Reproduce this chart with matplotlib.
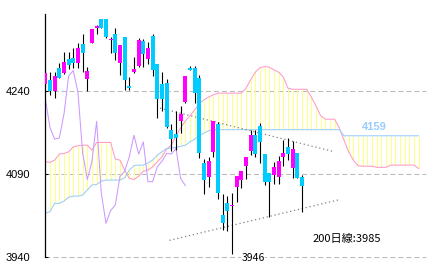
import matplotlib
matplotlib.use('Agg')
import matplotlib.pyplot as plt
import numpy as np

# ローソク足 (日足 56本)
opens = [4253, 4260, 4240, 4282, 4272, 4297, 4300, 4291, 4324, 4262,
         4327, 4353, 4370, 4370, 4332, 4343, 4290, 4338, 4249, 4274,
         4285, 4330, 4298, 4340, 4289, 4253, 4254, 4170, 4162, 4186,
         4220, 4282, 4282, 4264, 4110, 4085, 4130, 4180, 4015, 4038,
         4032, 4067, 4079, 4104, 4131, 4160, 4176, 4126, 4092, 4089,
         4085, 4121, 4139, 4100, 4128, 4085]
highs = [4276, 4275, 4275, 4291, 4310, 4310, 4317, 4326, 4342, 4284,
         4352, 4359, 4370, 4370, 4337, 4354, 4323, 4338, 4265, 4302,
         4335, 4334, 4329, 4343, 4289, 4275, 4262, 4180, 4204, 4213,
         4267, 4285, 4285, 4268, 4117, 4120, 4185, 4184, 4053, 4050,
         4055, 4086, 4095, 4121, 4170, 4170, 4182, 4126, 4092, 4112,
         4123, 4151, 4155, 4150, 4128, 4089]
lows = [4250, 4233, 4227, 4263, 4270, 4280, 4281, 4282, 4275, 4239,
        4327, 4343, 4353, 4336, 4308, 4295, 4269, 4242, 4242, 4273,
        4284, 4284, 4288, 4267, 4191, 4204, 4173, 4132, 4133, 4164,
        4219, 4277, 4218, 4118, 4053, 4067, 4121, 4044, 3989, 3987,
        3946, 4040, 4064, 4081, 4124, 4121, 4109, 4070, 4013, 4071,
        4071, 4105, 4115, 4082, 4082, 4022]
closes = [4273, 4239, 4267, 4263, 4292, 4287, 4290, 4318, 4308, 4276,
          4352, 4357, 4353, 4337, 4334, 4308, 4323, 4260, 4246, 4280,
          4332, 4307, 4318, 4277, 4226, 4226, 4174, 4153, 4155, 4198,
          4267, 4277, 4237, 4128, 4080, 4113, 4185, 4055, 4001, 4024,
          4034, 4086, 4095, 4121, 4160, 4126, 4148, 4076, 4076, 4103,
          4113, 4127, 4126, 4136, 4082, 4069]

# 一目均衡表の先行スパン (26日先まで)
span_pink = [4112, 4111, 4115, 4126, 4127, 4130, 4139, 4141, 4142, 4142,
             4133, 4147, 4147, 4147, 4147, 4117, 4115, 4097, 4082, 4080,
             4086, 4095, 4097, 4103, 4112, 4121, 4135, 4142, 4159, 4173,
             4186, 4195, 4206, 4217, 4224, 4229, 4233, 4236, 4236, 4236,
             4236, 4236, 4236, 4245, 4260, 4274, 4282, 4284, 4283, 4278,
             4274, 4265, 4245, 4243, 4243, 4243, 4243, 4229, 4213, 4195,
             4189, 4189, 4189, 4173, 4151, 4130, 4115, 4105, 4104, 4104,
             4104, 4102, 4102, 4102, 4106, 4106, 4106, 4106, 4106, 4106,
             4100]
span_blue = [4019, 4022, 4037, 4037, 4041, 4048, 4050, 4050, 4052, 4061,
             4070, 4071, 4077, 4079, 4079, 4079, 4079, 4083, 4097, 4105,
             4106, 4106, 4110, 4115, 4124, 4130, 4136, 4137, 4138, 4140,
             4142, 4148, 4153, 4159, 4164, 4168, 4170, 4170, 4170, 4170,
             4170, 4170, 4170, 4170, 4170, 4170, 4170, 4170, 4170, 4170,
             4170, 4170, 4170, 4170, 4170, 4170, 4170, 4170, 4170, 4170,
             4170, 4170, 4170, 4170, 4159, 4159, 4159, 4159, 4159, 4159,
             4159, 4159, 4159, 4159, 4159, 4159, 4159, 4159, 4159, 4159,
             4159]

# 三角保ち合いの線
upper_x = [24.6, 61.5]
upper_y = [4209, 4131]
lower_x = [26.6, 62.7]
lower_y = [3970, 4043]

yticks = [3940, 4090, 4240]
span_last = 4159
low_price = 3946
ma200 = 3985
lag = 25

fig = plt.figure(figsize=(4.33, 2.71), dpi=100)
ax = fig.add_axes([45 / 433, 14 / 271, 381 / 433, 243 / 271])

n = len(closes)
x = np.arange(n)
xs = np.arange(len(span_pink))

# 雲
ax.vlines(xs, span_pink, span_blue, color='#ffff88', lw=0.75, zorder=1)
ax.plot(xs, span_pink, color='#ff99cc', lw=0.75, zorder=2)
ax.plot(xs, span_blue, color='#99ccff', lw=0.75, zorder=2)

# 遅行スパン
ax.plot(x[:n - lag], closes[lag:], color='#cc99ff', lw=0.75, zorder=2)

# 保ち合いライン
ax.plot(upper_x, upper_y, color='#808080', lw=0.9, ls=(0, (1, 2.2)), zorder=2)
ax.plot(lower_x, lower_y, color='#808080', lw=0.9, ls=(0, (1, 2.2)), zorder=2)

# ローソク足
o = np.array(opens)
c = np.array(closes)
colors = np.where(c >= o, '#ff00ff', '#00ccff')
ax.vlines(x, lows, highs, color='black', lw=0.8, zorder=3)
body = np.maximum(np.abs(c - o), 1.6)
ax.bar(x, body, bottom=np.minimum(o, c), width=0.85, color=colors, lw=0, zorder=4)

# グリッド
for t in yticks:
    ax.axhline(t, color='#bbbbbb', lw=0.75, ls=(0, (4.8, 2.9)), zorder=0, clip_on=False)

ax.set_xlim(-0.065, 81.57)
ax.set_ylim(3940, 4379)
ax.set_yticks(yticks)
ax.set_yticklabels([str(t) for t in yticks], fontfamily='Liberation Sans', fontsize=8)
ax.tick_params(axis='y', direction='in', length=2.5, width=0.75, pad=10.5)
ax.set_xticks([])
for s in ['top', 'right', 'bottom']:
    ax.spines[s].set_visible(False)
ax.spines['left'].set_linewidth(0.9)

ax.text(70.4, 4174, str(span_last), color='#99ccff', fontsize=8, fontweight='bold',
        fontfamily='Liberation Sans', ha='center', va='center')
ax.text(44.5, 3939, str(low_price), color='black', fontsize=7.5,
        fontfamily=['Noto Sans CJK JP', 'DejaVu Sans'], ha='center', va='center',
        clip_on=False, zorder=5,
        bbox=dict(facecolor='white', edgecolor='none', pad=0.5))
ax.text(64.6, 3972, '200日線:' + str(ma200), color='black', fontsize=8,
        fontfamily=['Noto Sans CJK JP', 'DejaVu Sans'], ha='center', va='center')

fig.savefig('out.png', dpi=100)
